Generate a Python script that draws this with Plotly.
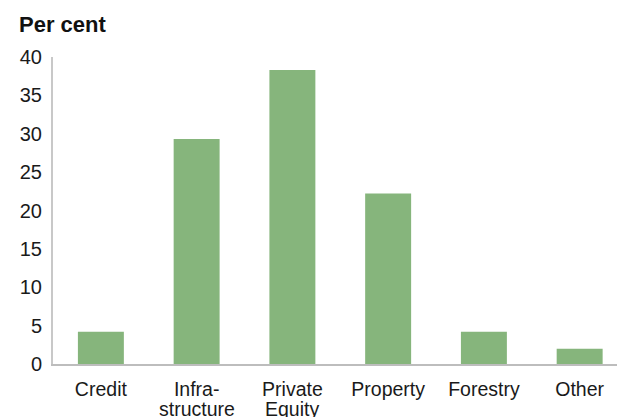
import plotly.graph_objects as go

# Asset allocation by category
categories = ["Credit", "Infra-", "Private", "Property", "Forestry", "Other"]
second_lines = ["", "structure", "Equity", "", "", ""]
shares = [4.2, 29.3, 38.3, 22.2, 4.2, 2.0]
y_ticks = [0, 5, 10, 15, 20, 25, 30, 35, 40]

x_pos = list(range(len(categories)))

fig = go.Figure(
    go.Bar(
        x=x_pos,
        y=shares,
        width=0.48,
        marker=dict(color="#86b57c", line=dict(width=0)),
    )
)

# Second line of the wrapped category labels, set tight under the first line
annotations = [
    dict(
        text=txt,
        xref="x", yref="paper",
        x=xv, y=0,
        xanchor="center", yanchor="middle",
        yshift=-45,
        showarrow=False,
        font=dict(size=19.5, color="#1a1a1a"),
    )
    for xv, txt in zip(x_pos, second_lines) if txt
]

annotations.append(
    dict(
        text="<b>Per cent</b>",
        xref="paper", yref="paper",
        x=-53 / 564, y=1 + 32 / 307,
        xanchor="left", yanchor="middle",
        xshift=17,
        showarrow=False,
        font=dict(size=22, color="#111111"),
    )
)

fig.update_layout(
    width=617,
    height=417,
    margin=dict(l=53, r=0, t=57, b=53),
    paper_bgcolor="white",
    plot_bgcolor="white",
    showlegend=False,
    font=dict(family="Liberation Sans, Arial, sans-serif", color="#1a1a1a"),
    xaxis=dict(
        range=[-0.5, 5.39],
        tickvals=x_pos,
        ticktext=categories,
        tickfont=dict(size=19.5),
        ticklabelstandoff=7,
        showgrid=False,
        showline=True,
        linecolor="#bdbdbd",
        linewidth=2,
        ticks="",
        zeroline=False,
        fixedrange=True,
    ),
    yaxis=dict(
        range=[0, 40],
        tickvals=y_ticks,
        tickfont=dict(size=20),
        showgrid=False,
        showline=True,
        linecolor="#c8c8c8",
        linewidth=2,
        ticks="",
        ticklabelstandoff=5,
        zeroline=False,
        fixedrange=True,
    ),
    annotations=annotations,
)

fig.write_html("out.html")
